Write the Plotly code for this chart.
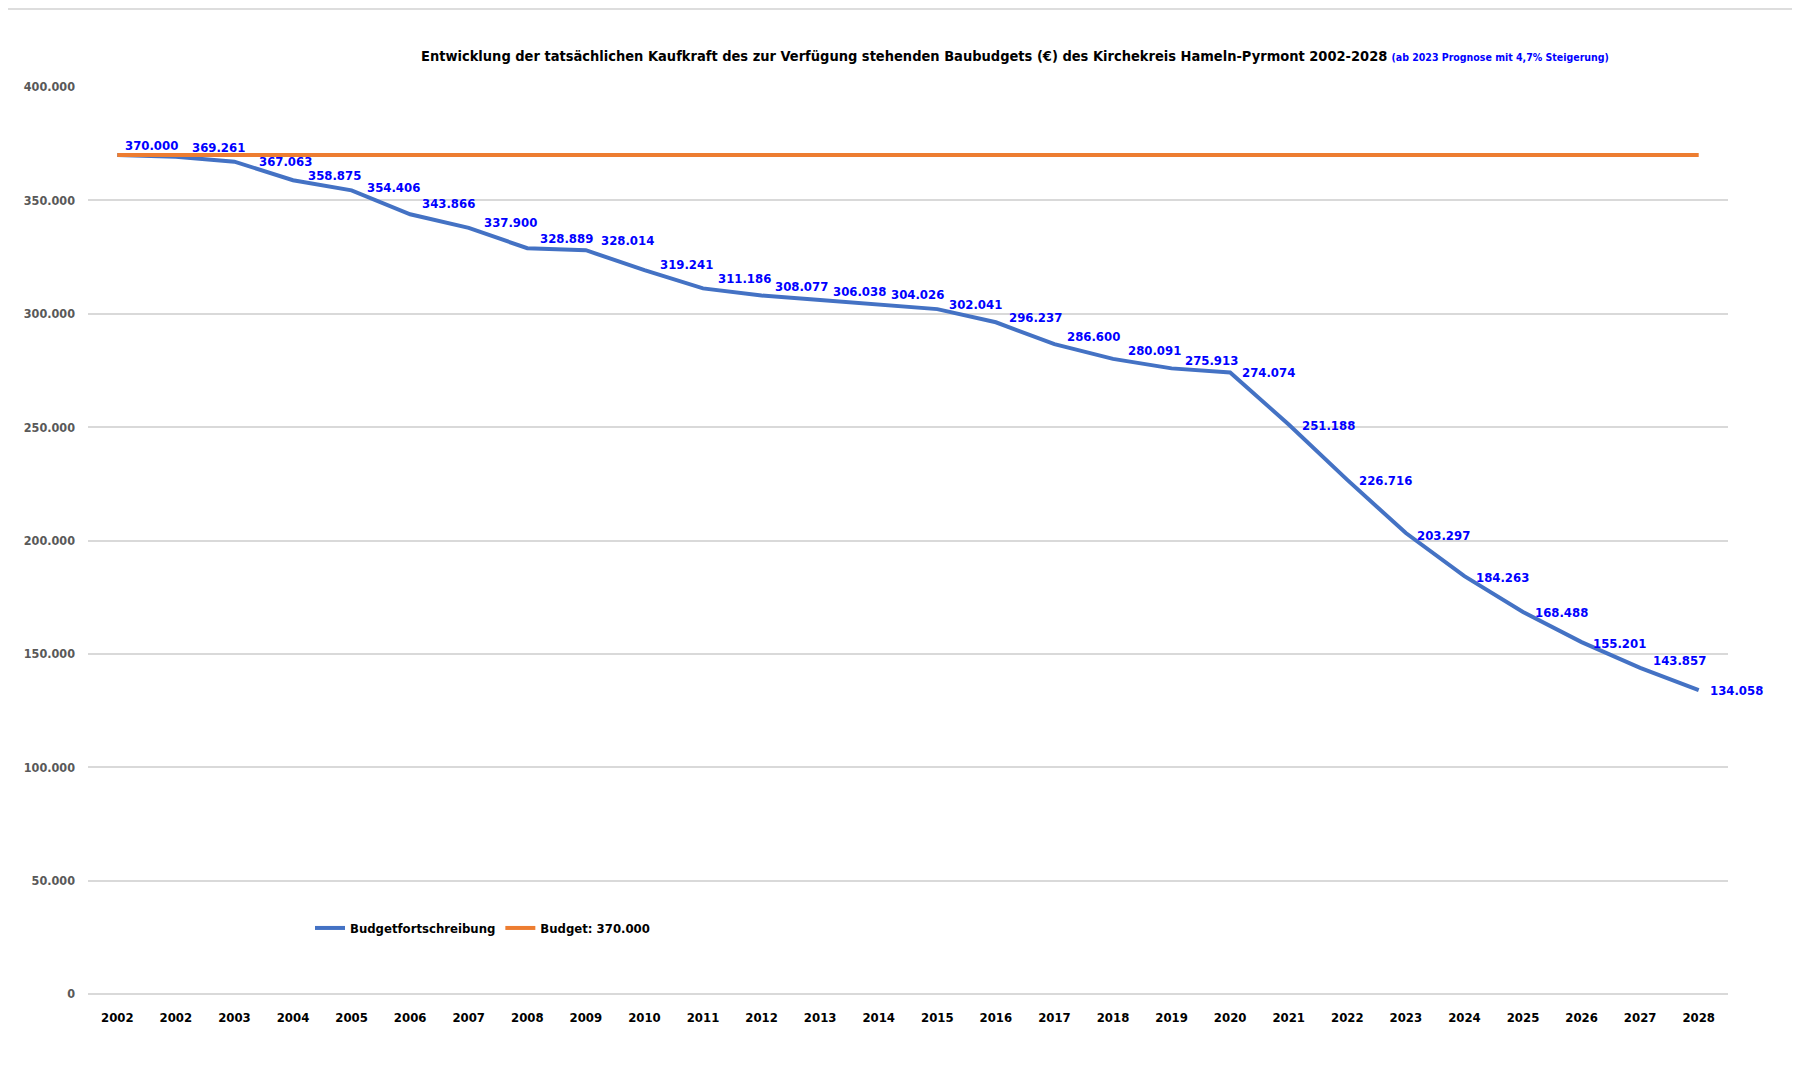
import plotly.graph_objects as go

years = ["2002", "2002", "2003", "2004", "2005", "2006", "2007", "2008", "2009", "2010",
         "2011", "2012", "2013", "2014", "2015", "2016", "2017", "2018", "2019", "2020",
         "2021", "2022", "2023", "2024", "2025", "2026", "2027", "2028"]
fortschreibung = [370000, 369261, 367063, 358875, 354406, 343866, 337900, 328889, 328014, 319241,
                  311186, 308077, 306038, 304026, 302041, 296237, 286600, 280091, 275913, 274074,
                  251188, 226716, 203297, 184263, 168488, 155201, 143857, 134058]
budget = [370000] * len(years)
y_ticks = [0, 50000, 100000, 150000, 200000, 250000, 300000, 350000, 400000]

# label offsets (pixels) for the data labels
label_dx = [6, 14, 23, 13, 13, 10, 13, 11, 13, 14, 13, 11, 11, 10, 10, 11, 11, 13, 11, 10,
            11, 10, 9, 10, 10, 9, 11, 9]
label_dy = [10, 9, 0, 5, 3, 11, 5, 10, 10, 6, 10, 9, 9, 10, 5, 5, 8, 8, 8, 0,
            -1, -1, -2, -1, -1, -1, 7, 0]

x_idx = list(range(len(years)))

def fmt(v):
    return f"{v:,}".replace(",", ".")

NARROW = "Liberation Sans Narrow, DejaVu Sans Condensed, Arial Narrow, Liberation Sans, sans-serif"

fig = go.Figure()
fig.add_trace(go.Scatter(x=x_idx, y=fortschreibung, mode="lines", name="<b>Budgetfortschreibung</b>",
                         line=dict(color="#4472C4", width=4)))
fig.add_trace(go.Scatter(x=x_idx, y=budget, mode="lines", name="<b>Budget: 370.000</b>",
                         line=dict(color="#ED7D31", width=4)))

W, H = 1784, 1050
pl, pr, pt, pb = 80, 64, 79, 64
pw, ph = W - pl - pr, H - pt - pb

lab_font = dict(family=NARROW, size=13, color="#0000FF")
annotations = []
for i, v in enumerate(fortschreibung):
    annotations.append(dict(x=i, y=v, xref="x", yref="y", text="<b>" + fmt(v) + "</b>",
                            showarrow=False, xanchor="left", yanchor="middle",
                            xshift=label_dx[i], yshift=label_dy[i], font=lab_font))

annotations.append(dict(
    x=(1007 - pl) / pw, y=(H - 48 - pb) / ph, xref="paper", yref="paper", showarrow=False,
    text=("<b>Entwicklung der tatsächlichen Kaufkraft des zur Verfügung stehenden Baubudgets (€) "
          "des Kirchekreis Hameln-Pyrmont 2002-2028</b> "
          "<span style='font-size:10.5px;color:#0000FF'><b>(ab 2023 Prognose mit 4,7% Steigerung)</b></span>"),
    font=dict(family=NARROW, size=14.5, color="#000000"),
    xanchor="center", yanchor="middle"))

fig.update_layout(
    width=W, height=H,
    margin=dict(l=pl, r=pr, t=pt, b=pb),
    paper_bgcolor="white", plot_bgcolor="white",
    separators=",.",
    showlegend=True,
    legend=dict(orientation="h", x=(302 - pl) / pw, y=(986 - 920) / ph, xanchor="left", yanchor="middle",
                font=dict(family=NARROW, size=13, color="#000000"),
                itemwidth=30, bgcolor="rgba(0,0,0,0)"),
    annotations=annotations,
    xaxis=dict(range=[-0.5, len(years) - 0.5], tickmode="array", tickvals=x_idx,
               ticktext=["<b>" + y + "</b>" for y in years], showgrid=False, zeroline=False,
               showline=False, ticks="", ticklabelstandoff=14,
               tickfont=dict(family=NARROW, size=13, color="#000000")),
    yaxis=dict(range=[0, 400000], tickmode="array", tickvals=y_ticks,
               ticktext=["<b>" + fmt(v) + "</b>" for v in y_ticks],
               showgrid=True, gridcolor="#D9D9D9", gridwidth=2, zeroline=False, showline=False,
               ticks="", ticklabelstandoff=12,
               tickfont=dict(family=NARROW, size=12.5, color="#595959")),
    shapes=[
        dict(type="line", xref="paper", yref="paper", x0=0, x1=1, y0=0, y1=0,
             line=dict(color="#D9D9D9", width=2), layer="below"),
        dict(type="line", xref="paper", yref="paper", x0=-pl / pw, x1=1 + pr / pw,
             y0=(H - 1 - pb) / ph, y1=(H - 1 - pb) / ph, line=dict(color="#DDDDDD", width=2)),
    ],
)

fig.write_html("out.html")
